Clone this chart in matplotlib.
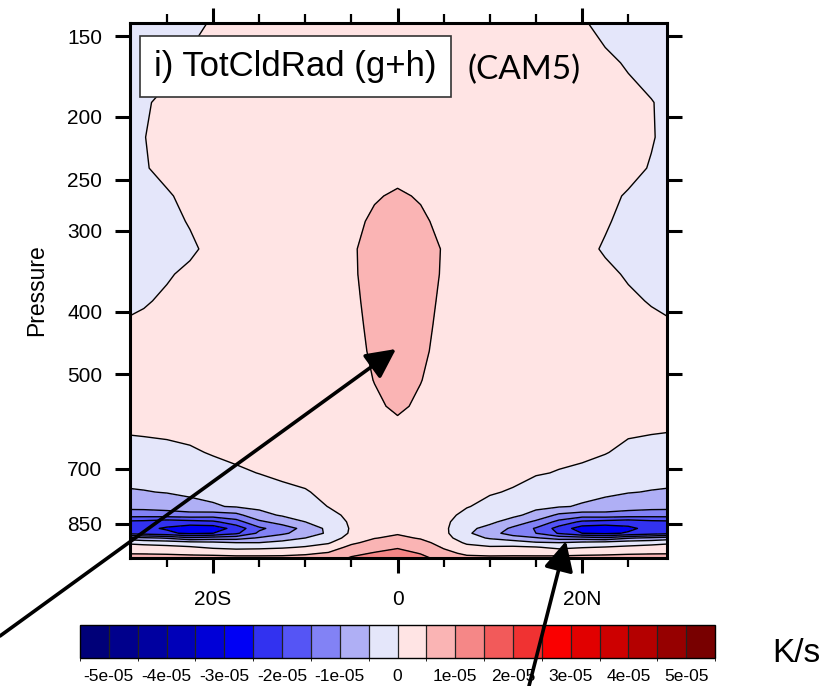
import numpy as np
import matplotlib
matplotlib.use('Agg')
import matplotlib.pyplot as plt
from matplotlib.colors import ListedColormap, BoundaryNorm
from matplotlib.cm import ScalarMappable
from matplotlib.ticker import MultipleLocator, NullLocator

# latitude columns (deg, negative = south)
lat = [-30, -27.5, -25, -22.5, -20, -17.5, -15, -12.5, -10, -7.5, -5, -2.5, 0,
       2.5, 5, 7.5, 10, 12.5, 15, 17.5, 20, 22.5, 25, 27.5, 30]
# pressure rows (hPa)
pres = [143, 165, 190, 215, 240, 265, 290, 320, 350, 385, 420, 460, 510, 560,
        610, 660, 710, 760, 800, 825, 845, 865, 880, 895, 910, 925, 945, 962]
# cloud radiative heating, 1e-6 K/s, one row per pressure level
heating = [
    [-3.0, -2.5, -2.0, -1.5, 0.5, 1.5, 2.0, 2.2, 2.3, 2.4, 2.5, 2.5, 2.6, 2.5, 2.5, 2.4, 2.3, 2.2, 2.0, 1.5, 0.5, -1.5, -2.0, -2.5, -3.0],
    [-2.5, -2.0, -1.2, 0.8, 1.6, 2.0, 2.2, 2.4, 2.5, 2.6, 2.6, 2.7, 2.8, 2.7, 2.6, 2.6, 2.5, 2.4, 2.2, 2.0, 1.6, 1.0, -0.5, -1.8, -2.5],
    [-2.0, -0.5, 1.0, 1.6, 2.0, 2.2, 2.4, 2.5, 2.6, 2.7, 2.8, 2.9, 3.0, 2.9, 2.8, 2.7, 2.6, 2.5, 2.4, 2.2, 2.0, 1.8, 1.5, 0.2, -1.5],
    [-1.5, -0.1, 1.2, 1.8, 2.1, 2.3, 2.5, 2.6, 2.7, 2.8, 2.9, 3.0, 3.2, 3.0, 2.9, 2.8, 2.7, 2.6, 2.5, 2.3, 2.1, 1.8, 1.2, 0.3, -1.5],
    [-1.2, -0.3, 1.0, 1.8, 2.2, 2.4, 2.6, 2.7, 2.8, 2.9, 3.0, 3.2, 3.5, 3.2, 3.0, 2.9, 2.8, 2.7, 2.6, 2.4, 2.2, 1.8, 1.2, -0.3, -1.2],
    [-1.5, -1.0, -0.4, 1.0, 1.8, 2.2, 2.5, 2.7, 2.8, 3.0, 3.3, 4.6, 5.6, 4.6, 3.3, 3.0, 2.8, 2.7, 2.5, 2.2, 1.8, 1.0, -0.4, -1.0, -1.5],
    [-1.5, -1.2, -0.8, 0.2, 1.2, 2.0, 2.5, 2.7, 2.9, 3.1, 3.8, 5.8, 6.5, 5.8, 3.8, 3.1, 2.9, 2.7, 2.5, 2.0, 1.2, 0.3, -0.8, -1.2, -1.5],
    [-1.5, -1.2, -0.9, -0.5, 0.8, 1.8, 2.4, 2.7, 2.9, 3.3, 4.6, 6.2, 6.8, 6.2, 4.8, 3.4, 2.9, 2.7, 2.4, 1.8, 0.8, -0.3, -0.9, -1.2, -1.5],
    [-1.2, -0.8, -0.3, 0.6, 1.5, 2.1, 2.5, 2.8, 3.0, 3.3, 4.5, 6.3, 7.0, 6.3, 4.7, 3.4, 3.0, 2.8, 2.5, 2.1, 1.5, 0.6, -0.3, -0.8, -1.2],
    [-0.8, -0.3, 0.5, 1.2, 1.8, 2.3, 2.6, 2.9, 3.1, 3.3, 4.2, 6.2, 7.0, 6.2, 4.4, 3.4, 3.1, 2.9, 2.6, 2.3, 1.8, 1.2, 0.5, -0.2, -0.8],
    [0.2, 0.7, 1.2, 1.7, 2.1, 2.5, 2.7, 2.9, 3.1, 3.3, 4.0, 5.9, 6.8, 5.9, 4.2, 3.4, 3.1, 2.9, 2.7, 2.5, 2.1, 1.7, 1.2, 0.7, 0.2],
    [1.0, 1.4, 1.8, 2.1, 2.4, 2.6, 2.8, 3.0, 3.1, 3.3, 3.8, 5.6, 6.6, 5.6, 4.0, 3.4, 3.1, 3.0, 2.8, 2.6, 2.4, 2.1, 1.8, 1.4, 1.0],
    [1.4, 1.7, 2.0, 2.3, 2.5, 2.7, 2.9, 3.0, 3.1, 3.3, 3.6, 5.1, 6.2, 5.1, 3.6, 3.3, 3.1, 3.0, 2.9, 2.7, 2.5, 2.3, 2.0, 1.7, 1.4],
    [1.5, 1.8, 2.1, 2.4, 2.6, 2.8, 2.9, 3.0, 3.1, 3.2, 3.4, 4.4, 5.6, 4.4, 3.4, 3.2, 3.1, 3.0, 2.9, 2.8, 2.6, 2.4, 2.1, 1.8, 1.5],
    [0.3, 0.5, 0.7, 1.0, 1.6, 2.0, 2.3, 2.6, 2.8, 3.0, 3.2, 3.6, 4.0, 3.6, 3.2, 3.0, 2.8, 2.6, 2.3, 2.0, 1.6, 1.0, 0.6, 0.3, 0.1],
    [-1.5, -1.3, -1.0, -0.5, 0.3, 1.0, 1.4, 1.8, 2.2, 2.6, 3.0, 3.3, 3.6, 3.3, 3.0, 2.6, 2.2, 2.0, 1.3, 0.9, 0.8, 0.2, -1.0, -1.3, -1.6],
    [-3.5, -3.3, -3.0, -2.5, -1.5, -0.7, 0.1, 0.8, 1.3, 1.9, 2.6, 3.0, 3.3, 3.0, 2.6, 1.9, 1.2, 0.9, 0.3, -0.2, -0.8, -2.0, -3.0, -3.3, -3.5],
    [-5.5, -5.2, -4.8, -4.2, -4.0, -3.0, -2.2, -1.0, -0.3, 1.0, 2.0, 2.7, 3.0, 2.7, 2.0, 1.0, 0.3, -0.3, -1.8, -2.8, -3.8, -4.2, -4.8, -5.2, -5.5],
    [-8.5, -8.3, -7.8, -6.5, -5.4, -4.6, -4.0, -2.8, -1.8, 0.1, 1.4, 2.4, 2.8, 2.4, 1.5, 0.2, -1.0, -2.2, -4.0, -4.6, -5.4, -6.5, -7.8, -8.3, -8.5],
    [-13.0, -13.0, -12.5, -12.0, -12.5, -11.5, -6.5, -4.5, -3.2, -1.2, 1.0, 2.3, 2.8, 2.3, 1.2, -1.0, -2.5, -4.0, -6.5, -11.0, -12.5, -12.0, -12.5, -13.0, -13.0],
    [-21.0, -21.5, -23.0, -22.0, -21.0, -17.0, -11.0, -8.0, -5.0, -2.6, 0.7, 2.4, 3.0, 2.4, 1.0, -2.4, -4.0, -7.0, -11.0, -16.5, -21.0, -22.0, -23.0, -21.5, -21.0],
    [-23.0, -24.0, -25.5, -28.0, -28.0, -23.0, -16.0, -12.5, -8.5, -3.8, 0.5, 2.8, 3.6, 2.8, 1.0, -3.8, -6.5, -11.0, -15.5, -22.0, -27.5, -28.0, -26.0, -23.5, -23.0],
    [-21.0, -22.5, -24.0, -26.0, -25.0, -21.0, -14.0, -11.0, -7.5, -4.3, 0.8, 3.8, 4.6, 3.6, 1.2, -4.2, -7.8, -12.4, -15.0, -20.5, -25.0, -26.0, -24.5, -22.5, -21.0],
    [-7.0, -9.0, -10.5, -14.0, -12.5, -12.0, -9.5, -7.0, -5.0, -3.0, 2.2, 4.8, 6.0, 4.6, 2.0, -3.0, -5.5, -7.5, -9.5, -12.0, -12.5, -14.0, -10.5, -9.0, -7.0],
    [-0.5, -1.5, -2.0, -3.0, -3.8, -5.0, -5.0, -3.8, -2.2, -0.5, 4.0, 6.8, 7.8, 6.4, 3.3, -0.8, -2.2, -2.8, -4.5, -5.0, -3.8, -3.0, -2.0, -1.5, -0.5],
    [2.0, 1.8, 1.2, 0.5, -0.8, -1.5, -1.2, -0.6, 0.4, 2.0, 6.5, 8.5, 9.6, 8.2, 4.5, 1.5, 0.5, 0.8, 0.3, -1.2, -0.3, 0.2, 0.8, 1.5, 2.0],
    [4.8, 4.7, 4.5, 4.0, 3.8, 3.4, 3.4, 3.6, 4.2, 5.5, 9.0, 10.3, 11.5, 9.8, 6.5, 4.0, 3.5, 3.6, 3.4, 3.4, 3.8, 4.0, 4.5, 4.7, 4.8],
    [7.0, 7.0, 7.0, 7.0, 6.8, 6.5, 6.5, 6.5, 7.0, 8.0, 10.5, 11.5, 12.8, 11.2, 8.5, 6.5, 6.3, 6.4, 6.5, 6.5, 6.8, 7.0, 7.0, 7.0, 7.0],
]

p_ticks = [150, 200, 250, 300, 400, 500, 700, 850]
lat_ticks = [-20, 0, 20]
lat_labels = ['20S', '0', '20N']
cb_ticks = [-5e-05, -4e-05, -3e-05, -2e-05, -1e-05, 0, 1e-05, 2e-05, 3e-05, 4e-05, 5e-05]
cb_labels = ['-5e-05', '-4e-05', '-3e-05', '-2e-05', '-1e-05', '0',
             '1e-05', '2e-05', '3e-05', '4e-05', '5e-05']

# blue - white - red palette, 22 boxes
palette = ['#000078', '#00008c', '#0000a0', '#0000b9', '#0000d7', '#0000f5',
           '#3232f0', '#5555f5', '#8282f5', '#afaff5', '#e4e6fa',
           '#ffe4e4', '#fab4b4', '#f58787', '#f25a5a', '#f03232',
           '#fa0000', '#e10000', '#cd0000', '#b40000', '#960000', '#780000']

levels = np.arange(-50, 51, 5) * 1e-6
cb_bounds = np.arange(-55, 56, 5) * 1e-6

z = np.array(heating) * 1e-6
cmap = ListedColormap(palette)
norm = BoundaryNorm(levels, ncolors=len(palette), extend='both')

plt.rcParams['font.family'] = ['Liberation Sans', 'DejaVu Sans']

fig = plt.figure(figsize=(8.23, 6.86), dpi=100)
ax = fig.add_axes([130 / 823, 1 - 558 / 686, 537 / 823, 535 / 686])

ax.contourf(lat, pres, z, levels=levels, cmap=cmap, norm=norm, extend='both')
ax.contour(lat, pres, z, levels=levels, colors='black', linewidths=1.0,
           linestyles='solid')

ax.set_yscale('log')
ax.set_ylim(961, 143.2)
ax.set_xlim(-29, 29.2)
ax.yaxis.set_major_locator(plt.FixedLocator(p_ticks))
ax.yaxis.set_minor_locator(NullLocator())
ax.set_yticklabels([str(p) for p in p_ticks])
ax.set_xticks(lat_ticks)
ax.set_xticklabels(lat_labels)
ax.xaxis.set_minor_locator(MultipleLocator(5))

ax.tick_params(axis='both', which='major', direction='out', length=11, width=2.2,
               labelsize=15)
ax.tick_params(axis='y', which='major', pad=9, right=True)
ax.tick_params(axis='x', which='major', pad=12, top=True)
ax.tick_params(axis='x', which='minor', direction='out', length=6.5, width=1.6,
               top=True)
for s in ax.spines.values():
    s.set_linewidth(2.2)

ax.set_ylabel('Pressure', fontsize=16.5, labelpad=14)

ax.text(0.045, 0.918, 'i) TotCldRad (g+h)', transform=ax.transAxes,
        fontsize=25, va='center', ha='left',
        bbox=dict(boxstyle='square,pad=0.4', fc='white', ec='#333333', lw=1.2))
ax.text(0.628, 0.912, '(CAM5)', transform=ax.transAxes, fontsize=24,
        va='center', ha='left', family=['Lato', 'DejaVu Sans'])

# colorbar with rectangular end boxes
cax = fig.add_axes([80 / 823, 1 - 658 / 686, 635 / 823, 33 / 686])
sm = ScalarMappable(norm=BoundaryNorm(cb_bounds, len(palette)), cmap=cmap)
cb = fig.colorbar(sm, cax=cax, orientation='horizontal', drawedges=True,
                  boundaries=cb_bounds, ticks=cb_ticks)
cb.set_ticklabels(cb_labels)
cb.outline.set_linewidth(1.0)
cb.dividers.set_color('#222222')
cb.dividers.set_linewidth(0.9)
cax.tick_params(length=0, labelsize=12.5, pad=8)

fig.text(796 / 823, 1 - 654 / 686, 'K/s', fontsize=24, va='center', ha='center')

# annotation arrows drawn in figure pixels
over = fig.add_axes([0, 0, 1, 1], facecolor='none')
over.set_xlim(0, 823)
over.set_ylim(686, 0)
over.axis('off')
arrow_kw = dict(arrowstyle='-|>,head_length=0.9,head_width=0.45', color='black',
                lw=2.6, shrinkA=0, shrinkB=0, mutation_scale=20)
over.annotate('', xy=(396, 349), xytext=(0, 636), arrowprops=arrow_kw)
over.annotate('', xy=(566, 541), xytext=(529, 686), arrowprops=arrow_kw)

fig.savefig('out.png', dpi=100)
